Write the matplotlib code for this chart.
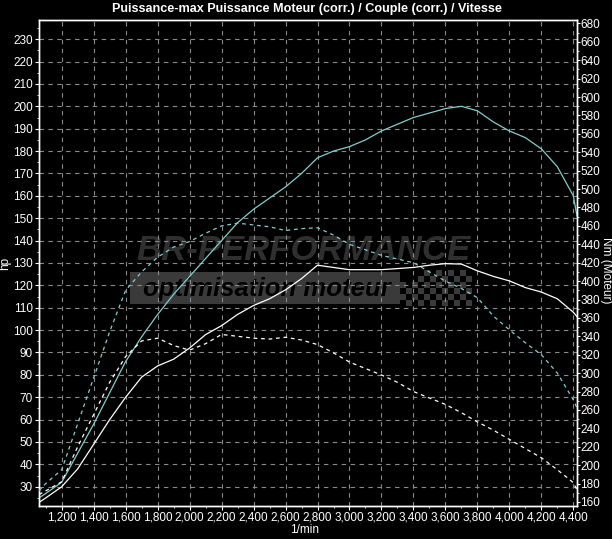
import matplotlib
matplotlib.use("Agg")
import matplotlib.pyplot as plt
from matplotlib.ticker import MultipleLocator, FuncFormatter
from matplotlib.patches import Rectangle

plt.rcParams['font.family'] = ['Liberation Sans Narrow', 'Liberation Sans', 'DejaVu Sans']

# ---- data ----
rpm = [1058, 1100, 1200, 1300, 1400, 1500, 1600, 1700, 1800, 1900, 2000, 2100, 2200, 2300,
       2400, 2500, 2600, 2700, 2800, 2900, 3000, 3100, 3200, 3300, 3400, 3500, 3600, 3700,
       3800, 3900, 4000, 4100, 4200, 4300, 4400, 4423]

power_cyan = [25, 27, 32, 45, 58, 72, 86, 97, 107, 116, 124, 132, 140, 148,
              154, 159, 164, 170, 177, 180, 182, 185, 189, 192, 195, 197, 199, 200,
              198, 193, 189, 186, 181, 173, 160, 151]

power_white = [23, 25, 30, 38, 49, 60, 70, 79, 84, 87, 92, 98, 102, 107,
               111, 114, 118, 123, 129, 128, 127, 127, 127, 127.5, 128, 129, 129.7, 129.5,
               126.5, 124, 122, 119, 117, 114, 108, 106]

torque_cyan = [172, 180, 195, 245, 295, 345, 390, 410, 426, 437, 443, 452, 460, 463,
               461, 459, 455, 457, 458, 450, 440, 434, 428, 424, 420, 410, 400, 392,
               382, 362, 347, 333, 320, 300, 271, 262]

torque_white = [168, 172, 182, 220, 255, 290, 318, 335, 338, 330, 325, 332, 342, 340,
                338, 337, 339, 336, 331, 322, 312, 305, 298, 290, 280, 273, 266, 257,
                247, 238, 228, 218, 208, 195, 181, 173]

hp_ticks = list(range(30, 240, 10))
nm_ticks = list(range(160, 700, 20))
rpm_ticks = list(range(1200, 4600, 200))

title = "Puissance-max Puissance Moteur (corr.) / Couple (corr.) / Vitesse"

# ---- figure ----
W, H = 612, 539
fig = plt.figure(figsize=(W / 100, H / 100), dpi=100, facecolor='black')
L, R, T, B = 39, 577, 19.5, 506
ax = fig.add_axes([L / W, 1 - B / H, (R - L) / W, (B - T) / H])
ax.set_facecolor('black')
ax2 = ax.twinx()

cyan = '#7fcfcf'
grid_c = '#8a8a8a'


def fx(x):
    return x / W


def fy(y):
    return 1 - y / H


# watermark
wm_gray = '#3a3a3a'
box = Rectangle((fx(130), fy(304)), fx(400) - fx(130), fy(272) - fy(304),
                transform=fig.transFigure, facecolor=wm_gray, edgecolor='none', zorder=1)
fig.patches.append(box)
# checkered flag
sq = 6
for i in range(12):
    for j in range(6):
        if (i + j) % 2:
            continue
        x0 = 400 + i * sq
        y0 = 270 + j * sq
        if j < 2 and i < 3 - j * 1.5:
            continue
        fig.patches.append(Rectangle((fx(x0), fy(y0 + sq)), sq / W, sq / H,
                                     transform=fig.transFigure, facecolor=wm_gray,
                                     edgecolor='none', zorder=1))
fig.text(fx(303), fy(251), "BR-PERFORMANCE", ha='center', va='center',
         fontsize=25, fontweight='bold', fontstyle='italic', color='#2f2f2f',
         family=['Liberation Sans', 'DejaVu Sans'], zorder=2)
fig.text(fx(267), fy(289), "optimisation moteur", ha='center', va='center',
         fontsize=18.5, fontweight='bold', fontstyle='italic', color='black',
         family=['Liberation Sans', 'DejaVu Sans'], zorder=2)
ax.patch.set_alpha(0)
ax.set_zorder(3)
ax2.set_zorder(4)

# lines
ax.plot(rpm, power_cyan, color=cyan, lw=0.9, zorder=4)
ax.plot(rpm, power_white, color='white', lw=0.9, zorder=4)
ax2.plot(rpm, torque_cyan, color=cyan, lw=0.9, ls=(0, (3, 3)), zorder=4)
ax2.plot(rpm, torque_white, color='white', lw=0.9, ls=(0, (3, 3)), zorder=4)

ax.set_xlim(1058, 4423)
ax.set_ylim(21.4, 238.8)
ax2.set_ylim(155.6, 684.3)

ax.set_xticks(rpm_ticks)
ax.xaxis.set_major_formatter(FuncFormatter(lambda v, p: f"{int(v):,}"))
ax.xaxis.set_minor_locator(MultipleLocator(100))
ax.set_yticks(hp_ticks)
ax.yaxis.set_minor_locator(MultipleLocator(5))
ax2.set_yticks(nm_ticks)
ax2.yaxis.set_minor_locator(MultipleLocator(10))

ax.grid(True, which='major', color=grid_c, ls=(0, (4, 4)), lw=0.8, zorder=2)
ax.set_axisbelow(True)

for a in (ax, ax2):
    for s in a.spines.values():
        s.set_color('white')
        s.set_linewidth(1.0)
    a.tick_params(colors='white', labelsize=8.5, length=3, width=0.8, direction='out', pad=1.5)
    a.tick_params(which='minor', colors='white', length=1.5, width=0.6)

ax.tick_params(axis='x', pad=1)
ax2.tick_params(axis='y', length=2, pad=0.5)

fig.text(fx(307), fy(9), title, color='white', fontsize=9.1, fontweight='bold',
         ha='center', va='center')
ax.set_xlabel("1/min", color='white', fontsize=8.5)
ax.xaxis.set_label_coords((305 - L) / (R - L), -(524 - B) / (B - T))
ax.set_ylabel("hp", color='white', fontsize=8.5)
ax.yaxis.set_label_coords((11 - L) / (R - L), (B - 263) / (B - T))
ax2.set_ylabel("Nm (Moteur)", color='white', fontsize=8.5, rotation=270, va='center')
ax2.yaxis.set_label_coords((606 - L) / (R - L), (B - 270) / (B - T))

fig.savefig("out.png", dpi=100, facecolor='black')
